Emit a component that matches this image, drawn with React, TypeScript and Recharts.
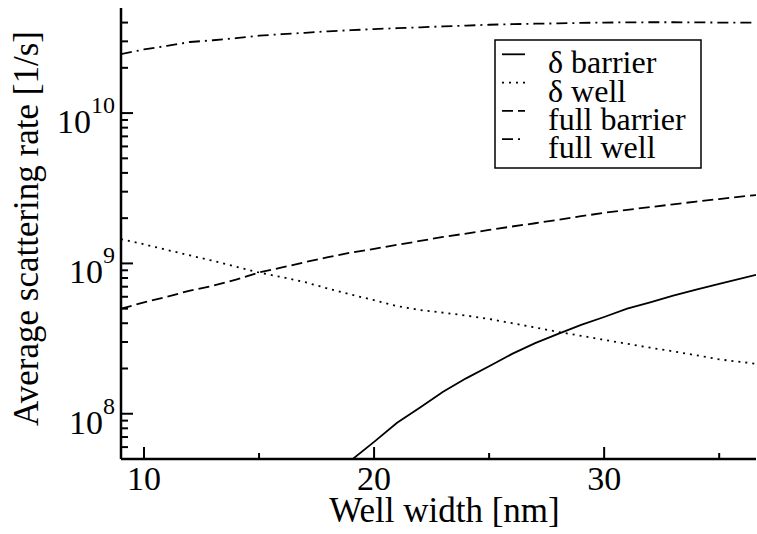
import React from 'react';
import { LineChart, Line, XAxis, YAxis, Legend } from 'recharts';

const FONT = '"Liberation Serif", "Times New Roman", serif';

// Well width [nm]
const widths = [9, 10, 11, 12, 13, 14, 15, 16, 17, 18, 19, 20, 21, 22, 23, 24, 25, 26, 27, 28, 29, 30, 31, 32, 33, 34, 35, 36.6];

// Average scattering rate [1/s]
const deltaBarrier = [null, null, null, null, null, null, null, null, null, null,
  4.9e7, 6.5e7, 8.7e7, 1.1e8, 1.4e8, 1.72e8, 2.07e8, 2.5e8, 2.95e8, 3.4e8, 3.9e8, 4.4e8, 5.0e8, 5.5e8, 6.1e8, 6.7e8, 7.3e8, 8.4e8];
const deltaWell = [1.45e9, 1.34e9, 1.23e9, 1.13e9, 1.04e9, 9.5e8, 8.7e8, 8.1e8, 7.5e8, 6.8e8, 6.2e8, 5.7e8, 5.2e8, 4.9e8,
  4.7e8, 4.5e8, 4.27e8, 4.0e8, 3.75e8, 3.5e8, 3.3e8, 3.1e8, 2.92e8, 2.75e8, 2.6e8, 2.45e8, 2.3e8, 2.15e8];
const fullBarrier = [5.0e8, 5.5e8, 6.0e8, 6.6e8, 7.1e8, 7.8e8, 8.7e8, 9.4e8, 1.02e9, 1.1e9, 1.18e9, 1.25e9, 1.33e9, 1.41e9,
  1.5e9, 1.58e9, 1.67e9, 1.76e9, 1.85e9, 1.95e9, 2.06e9, 2.17e9, 2.27e9, 2.37e9, 2.47e9, 2.58e9, 2.68e9, 2.85e9];
const fullWell = [2.47e10, 2.65e10, 2.8e10, 2.97e10, 3.05e10, 3.15e10, 3.27e10, 3.35e10, 3.42e10, 3.5e10, 3.56e10, 3.62e10,
  3.67e10, 3.72e10, 3.77e10, 3.82e10, 3.87e10, 3.9e10, 3.93e10, 3.95e10, 3.98e10, 4.0e10, 4.01e10, 4.02e10, 4.02e10, 4.01e10, 4.0e10, 4.0e10];

const seriesNames = ['δ barrier', 'δ well', 'full barrier', 'full well'];
const seriesKeys = ['db', 'dw', 'fb', 'fw'];
const seriesDashes = [undefined, '2 5', '11 5', '11 5 2 5'];

const xTicks = [10, 15, 20, 25, 30, 35];
const xLabeled = [10, 20, 30];
const yTicks = [
  6e7, 7e7, 8e7, 9e7,
  1e8, 2e8, 3e8, 4e8, 5e8, 6e8, 7e8, 8e8, 9e8,
  1e9, 2e9, 3e9, 4e9, 5e9, 6e9, 7e9, 8e9, 9e9,
  1e10, 2e10, 3e10, 4e10,
];
const xDomain = [9, 36.6];
const yDomain = [5e7, 5e10];

const data = widths.map((w, i) => ({
  w,
  db: deltaBarrier[i],
  dw: deltaWell[i],
  fb: fullBarrier[i],
  fw: fullWell[i],
}));

const isMajorY = (v: number) => Math.abs(Math.log10(v) - Math.round(Math.log10(v))) < 1e-9;

const BottomTick = (props: any) => {
  const { x, y, payload } = props;
  const major = xLabeled.includes(payload.value);
  return (
    <g>
      <line x1={x} x2={x} y1={y} y2={y - (major ? 12 : 6)} stroke="#000" strokeWidth={2} />
      {major && (
        <text x={x} y={y + 31} textAnchor="middle" fontSize={34} fontFamily={FONT} fill="#000">
          {payload.value}
        </text>
      )}
    </g>
  );
};

const TopTick = (props: any) => {
  const { x, y, payload } = props;
  const major = xLabeled.includes(payload.value);
  return <line x1={x} x2={x} y1={y} y2={y + (major ? 12 : 6)} stroke="#000" strokeWidth={2} />;
};

const LeftTick = (props: any) => {
  const { x, y, payload } = props;
  const major = isMajorY(payload.value);
  const exp = Math.round(Math.log10(payload.value));
  return (
    <g>
      <line x1={x} x2={x + (major ? 12 : 7)} y1={y} y2={y} stroke="#000" strokeWidth={2} />
      {major && (
        <text x={x - 6} y={y + 20} textAnchor="end" fontFamily={FONT} fill="#000" fontSize={34}>
          <tspan>10</tspan>
          <tspan dy={-20} fontSize={24}>{exp}</tspan>
        </text>
      )}
    </g>
  );
};

const RightTick = (props: any) => {
  const { x, y, payload } = props;
  const major = isMajorY(payload.value);
  return <line x1={x} x2={x - (major ? 12 : 7)} y1={y} y2={y} stroke="#000" strokeWidth={2} />;
};

const YTitle = (props: any) => {
  const vb = props.viewBox || { x: 0, y: 0, width: 0, height: 0 };
  const cx = vb.x + 38;
  const cy = vb.y + vb.height / 2 - 5;
  return (
    <text transform={`translate(${cx}, ${cy}) rotate(-90)`} textAnchor="middle" fontSize={35} fontFamily={FONT} fill="#000">
      Average scattering rate [1/s]
    </text>
  );
};

const XTitle = (props: any) => {
  const vb = props.viewBox || { x: 0, y: 0, width: 0, height: 0 };
  return (
    <text x={vb.x + vb.width / 2 + 6} y={vb.y + 63} textAnchor="middle" fontSize={35} fontFamily={FONT} fill="#000">
      Well width [nm]
    </text>
  );
};

const LegendBox = () => (
  <svg width={208} height={130} style={{ display: 'block' }}>
    <rect x={1} y={1} width={206} height={128} fill="#fff" stroke="#000" strokeWidth={1.5} />
    {seriesNames.map((name, i) => {
      const base = 34.3 + i * 28.3;
      return (
        <g key={name}>
          <line x1={8} x2={31} y1={base - 19} y2={base - 19} stroke="#000" strokeWidth={1.8} strokeDasharray={seriesDashes[i]} />
          <text x={54} y={base} fontSize={32} fontFamily={FONT} fill="#000">{name}</text>
        </g>
      );
    })}
  </svg>
);

export default function App() {
  return (
    <div style={{ position: 'absolute', left: 0, top: 0 }}>
      <LineChart width={757} height={534} data={data} margin={{ top: 8, right: 1, bottom: 0, left: 0 }}>
        <XAxis
          xAxisId="b"
          dataKey="w"
          type="number"
          domain={xDomain}
          allowDataOverflow
          ticks={xTicks}
          interval={0}
          height={75}
          tickSize={0}
          tickMargin={0}
          tickLine={false}
          tick={<BottomTick />}
          axisLine={{ stroke: '#000', strokeWidth: 2.5 }}
          label={<XTitle />}
        />
        <XAxis
          xAxisId="t"
          orientation="top"
          dataKey="w"
          type="number"
          domain={xDomain}
          allowDataOverflow
          ticks={xTicks}
          interval={0}
          height={0}
          tickSize={0}
          tickMargin={0}
          tickLine={false}
          tick={<TopTick />}
          axisLine={{ stroke: '#000', strokeWidth: 2.5 }}
        />
        <YAxis
          yAxisId="l"
          type="number"
          scale="log"
          domain={yDomain}
          allowDataOverflow
          ticks={yTicks}
          interval={0}
          width={121}
          tickSize={0}
          tickMargin={0}
          tickLine={false}
          tick={<LeftTick />}
          axisLine={{ stroke: '#000', strokeWidth: 2.5 }}
          label={<YTitle />}
        />
        <YAxis
          yAxisId="r"
          orientation="right"
          type="number"
          scale="log"
          domain={yDomain}
          allowDataOverflow
          ticks={yTicks}
          interval={0}
          width={0}
          tickSize={0}
          tickMargin={0}
          tickLine={false}
          tick={<RightTick />}
          axisLine={{ stroke: '#000', strokeWidth: 2.5 }}
        />
        <Legend
          layout="vertical"
          align="center"
          verticalAlign="middle"
          wrapperStyle={{ left: 494, top: 39, width: 208, height: 130, margin: 0, padding: 0 }}
          content={() => <LegendBox />}
        />
        {seriesKeys.map((k, i) => (
          <Line
            key={k}
            xAxisId="b"
            yAxisId="l"
            dataKey={k}
            name={seriesNames[i]}
            type="linear"
            stroke="#000"
            strokeWidth={1.8}
            strokeDasharray={seriesDashes[i]}
            dot={false}
            activeDot={false}
            isAnimationActive={false}
          />
        ))}
      </LineChart>
    </div>
  );
}
